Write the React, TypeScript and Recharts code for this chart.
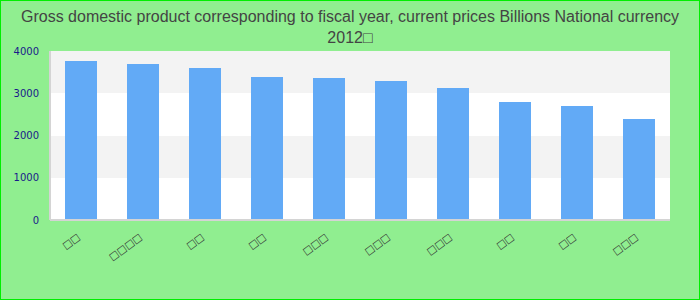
import { Bar, BarChart, CartesianGrid, XAxis, YAxis } from 'recharts';

// Category labels render as missing-glyph boxes in the reference; kept as box characters.
const categories = ['□□', '□□□□', '□□', '□□', '□□□', '□□□', '□□□', '□□', '□□', '□□□'];
const gdp = [3763, 3692, 3598, 3385, 3361, 3290, 3124, 2793, 2698, 2391];
const yTicks = [0, 1000, 2000, 3000, 4000];

const TITLE = 'Gross domestic product corresponding to fiscal year, current prices Billions National currency 2012□';

const data = categories.map((name, i) => ({ name, value: gdp[i] }));

const AXIS_GRAY = '#d4d4d4';

function SlantTick({ x, y, payload }: any) {
  return (
    <g transform={`translate(${x - 5},${y + 4})`}>
      <text
        x={0}
        y={0}
        dy={8}
        textAnchor="end"
        transform="rotate(-36)"
        fontSize={10}
        fontFamily="DejaVu Sans"
        fill="#333"
      >
        {payload.value}
      </text>
    </g>
  );
}

export default function App() {
  return (
    <div
      style={{
        position: 'absolute',
        left: 0,
        top: 0,
        width: 700,
        height: 300,
        background: '#90ee90',
      }}
    >
      <div
        style={{
          position: 'absolute',
          left: 10,
          top: 6,
          width: 680,
          textAlign: 'center',
          fontFamily: 'Liberation Sans, Arial, sans-serif',
          fontSize: 16,
          lineHeight: '21px',
          color: '#444',
        }}
      >
        {TITLE}
      </div>
      <BarChart
        width={700}
        height={300}
        data={data}
        margin={{ top: 51, right: 30, bottom: 0, left: 0 }}
        barCategoryGap={15}
      >
        <CartesianGrid
          vertical={false}
          stroke="none"
          horizontalFill={['#f3f3f3', '#ffffff']}
        />
        <XAxis
          dataKey="name"
          interval={0}
          height={80}
          tickLine={false}
          axisLine={{ stroke: AXIS_GRAY, strokeWidth: 2 }}
          tick={<SlantTick />}
        />
        <XAxis
          xAxisId="top"
          orientation="top"
          dataKey="name"
          height={0}
          tick={false}
          tickLine={false}
          axisLine={{ stroke: AXIS_GRAY, strokeWidth: 2 }}
        />
        <YAxis
          domain={[0, 4000]}
          ticks={yTicks}
          width={50}
          tickLine={false}
          tickMargin={5}
          axisLine={{ stroke: AXIS_GRAY, strokeWidth: 2 }}
          tick={{ fontSize: 10, fontFamily: 'DejaVu Sans', fill: '#1a1a8a' }}
        />
        <YAxis
          yAxisId="right"
          orientation="right"
          domain={[0, 4000]}
          width={0}
          tick={false}
          tickLine={false}
          axisLine={{ stroke: AXIS_GRAY, strokeWidth: 2 }}
        />
        <Bar dataKey="value" fill="#62aaf6" isAnimationActive={false} />
      </BarChart>
      <div
        style={{
          position: 'absolute',
          inset: 0,
          border: '1px solid #00ee00',
          pointerEvents: 'none',
        }}
      />
    </div>
  );
}
